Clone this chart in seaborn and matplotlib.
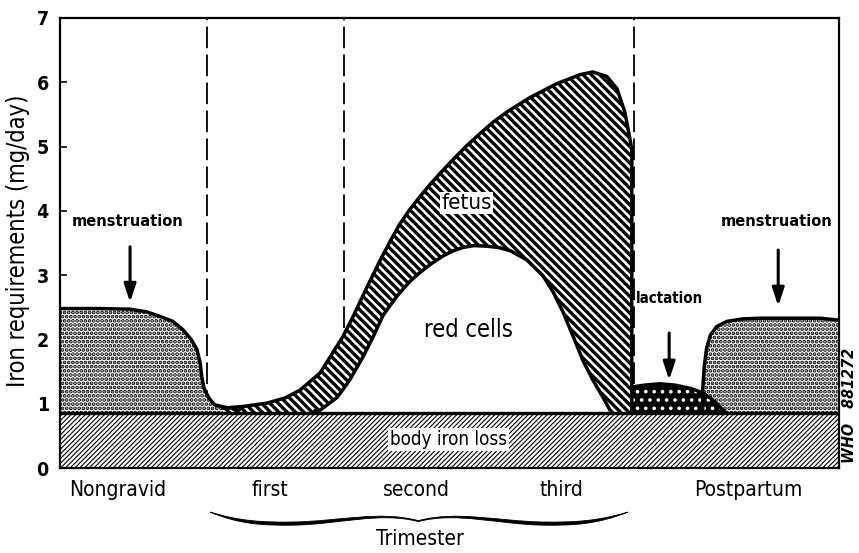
import matplotlib
matplotlib.use("Agg")
import matplotlib.pyplot as plt
from matplotlib import font_manager
import seaborn as sns
import pandas as pd
from matplotlib.path import Path
from matplotlib.patches import PathPatch

# x runs 0-100 across the time line (nongravid -> trimesters -> postpartum)
baseline = 0.85  # body iron loss (mg/day)

nongravid_x = [0, 5.1, 9.0, 11.1, 12.8, 14.5, 15.8, 16.9, 17.6, 18.0, 18.2,
               18.5, 19.1, 19.9, 21.4, 23.0]
nongravid_y = [2.48, 2.48, 2.47, 2.43, 2.36, 2.28, 2.15, 1.99, 1.84, 1.63,
               1.42, 1.24, 1.09, 0.98, 0.94, 0.90]

fetus_x = [20.9, 23.7, 26.6, 28.9, 30.8, 33.4, 35.0, 36.3, 37.6, 39.4, 41.1,
           42.4, 43.6, 44.9, 46.2, 47.5, 49.0, 50.4, 52.1, 53.9, 55.6, 57.4,
           60.3, 63.8, 66.8, 68.4, 70.2, 71.5, 72.5, 73.2, 73.4, 73.4]
fetus_y = [0.93, 0.96, 1.01, 1.09, 1.21, 1.48, 1.79, 2.04, 2.35, 2.81, 3.23,
           3.53, 3.79, 4.02, 4.22, 4.41, 4.61, 4.79, 5.00, 5.20, 5.38, 5.54,
           5.76, 5.98, 6.12, 6.16, 6.09, 5.90, 5.54, 5.10, 4.95, 0.85]

redcell_x = [32.7, 33.4, 35.6, 37.2, 38.9, 40.2, 41.5, 43.3, 44.9, 46.2, 47.7,
             49.2, 50.5, 51.7, 53.2, 54.8, 56.3, 57.8, 59.9, 62.0, 63.3, 64.6,
             65.9, 67.1, 68.4, 69.7, 70.6]
redcell_y = [0.89, 0.90, 1.10, 1.37, 1.73, 2.04, 2.38, 2.68, 2.90, 3.04, 3.18,
             3.30, 3.38, 3.43, 3.46, 3.45, 3.43, 3.38, 3.24, 2.99, 2.74, 2.42,
             2.04, 1.68, 1.37, 1.10, 0.90]

lactation_x = [73.4, 75.1, 77.0, 78.9, 80.9, 82.5, 83.7, 84.7, 85.6]
lactation_y = [1.26, 1.29, 1.31, 1.29, 1.24, 1.17, 1.07, 0.95, 0.85]

postpartum_x = [82.5, 82.5, 82.7, 83.0, 83.5, 84.3, 85.6, 87.7, 89.9, 94.1,
                97.6, 100]
postpartum_y = [0.85, 1.21, 1.57, 1.86, 2.07, 2.20, 2.28, 2.32, 2.33, 2.33,
                2.33, 2.30]

period_bounds = [18.9, 36.5, 73.7]
tick_x = [18.9, 36.5, 55.2, 73.7]
period_labels = ["Nongravid", "first", "second", "third", "Postpartum"]
period_label_x = [7.4, 27.0, 45.7, 64.4, 88.3]
y_values = list(range(0, 8))

sns.set_theme(style="white")

# a condensed face if one happens to be installed, else Liberation Sans
stretch = "normal"
family = ["Liberation Sans", "DejaVu Sans"]
for f in font_manager.fontManager.ttflist:
    if f.name in ("Liberation Sans Narrow", "DejaVu Sans") and f.stretch == "condensed":
        family = [f.name] + family
        stretch = "condensed"
        break
plt.rcParams["font.family"] = family
plt.rcParams["font.stretch"] = stretch
plt.rcParams["hatch.color"] = "black"
plt.rcParams["text.color"] = "black"
plt.rcParams["ytick.color"] = "black"
plt.rcParams["xtick.color"] = "black"

fig = plt.figure(figsize=(8.59, 5.53), dpi=100)
ax = fig.add_axes([0.0698, 0.1537, 0.9069, 0.8138])
ax.set_xlim(0, 100)
ax.set_ylim(0, 7)

# period separators (hidden behind the filled areas)
for xb in period_bounds:
    ax.axvline(xb, color="black", lw=1.3, ls=(0, (12, 3.5)), zorder=1)

# body iron loss band
with plt.rc_context({"hatch.linewidth": 0.8}):
    ax.fill_between([0, 100], 0, baseline, facecolor="white", hatch="/" * 7,
                    edgecolor="black", lw=0, zorder=1.5)

# nongravid menstruation
with plt.rc_context({"hatch.linewidth": 1.9}):
    ax.fill_between(nongravid_x, baseline, nongravid_y, facecolor="white",
                    hatch="....", edgecolor="black", lw=0, zorder=2)

# fetus (hatched) with red cells (white) on top
with plt.rc_context({"hatch.linewidth": 2.4}):
    ax.fill_between(fetus_x, baseline, fetus_y, facecolor="white",
                    hatch="\\" * 4, edgecolor="black", lw=0, zorder=2)
ax.fill_between(redcell_x, baseline, redcell_y, facecolor="white", lw=0,
                zorder=3)

# postpartum menstruation then lactation on top
with plt.rc_context({"hatch.linewidth": 1.9}):
    ax.fill_between(postpartum_x, baseline, postpartum_y, facecolor="white",
                    hatch="....", edgecolor="black", lw=0, zorder=2)
with plt.rc_context({"hatch.linewidth": 1.4}):
    ax.fill_between(lactation_x, baseline, lactation_y, facecolor="black",
                    hatch="..", edgecolor="white", lw=0, zorder=3)

# outlines
curves = [(nongravid_x, nongravid_y), (fetus_x, fetus_y), (redcell_x, redcell_y),
          (postpartum_x, postpartum_y), (lactation_x, lactation_y)]
for cx, cy in curves:
    df = pd.DataFrame({"x": cx, "y": cy})
    sns.lineplot(data=df, x="x", y="y", sort=False, estimator=None,
                 color="black", lw=2.5, ax=ax, zorder=4)
for ln in ax.get_lines():
    ln.set_solid_joinstyle("round")
    ln.set_solid_capstyle("round")

ax.axhline(baseline, color="black", lw=2.4, zorder=6)
ax.text(49.9, 0.45, "body iron loss", ha="center", va="center", fontsize=13.5,
        zorder=7, bbox=dict(facecolor="white", edgecolor="none", pad=1.5))

# labels inside the plot
ax.text(52.2, 4.12, "fetus", ha="center", va="center", fontsize=16,
        zorder=7, bbox=dict(facecolor="white", edgecolor="none", pad=1.0))
ax.text(52.4, 2.15, "red cells", ha="center", va="center", fontsize=17,
        zorder=7)

arrow = dict(arrowstyle="-|>,head_length=0.9,head_width=0.3", color="black",
             lw=2.2, shrinkA=0, shrinkB=0)
ax.annotate("", xy=(9.0, 2.58), xytext=(9.0, 3.44), arrowprops=arrow, zorder=7)
ax.text(8.7, 3.83, "menstruation", ha="center", va="center", fontsize=11.7,
        fontweight="bold")
ax.annotate("", xy=(92.2, 2.52), xytext=(92.2, 3.39), arrowprops=arrow, zorder=7)
ax.text(92.0, 3.83, "menstruation", ha="center", va="center", fontsize=11.7,
        fontweight="bold")
ax.annotate("", xy=(78.2, 1.37), xytext=(78.2, 2.10), arrowprops=arrow, zorder=7)
ax.text(78.3, 2.64, "lactation", ha="center", va="center", fontsize=10.8,
        fontweight="bold")

# axes styling
ax.set_yticks(y_values)
ax.set_yticklabels([str(v) for v in y_values], fontsize=14, fontweight="bold")
ax.set_xticks(tick_x)
ax.set_xticklabels([])
ax.tick_params(axis="both", direction="in", length=5, width=1.2, color="black",
               left=True, bottom=True)
ax.tick_params(axis="y", pad=8)
for side in ["left", "right", "top", "bottom"]:
    ax.spines[side].set_color("black")
    ax.spines[side].set_linewidth(1.6)
    ax.spines[side].set_zorder(8)
ax.set_xlabel("")
ax.set_ylabel("")
ax.text(-0.054, 0.505, "Iron requirements (mg/day)", rotation=90,
        transform=ax.transAxes, ha="center", va="center", fontsize=17)

# period names and trimester brace below the axis
xt = ax.get_xaxis_transform()
for lx, lab in zip(period_label_x, period_labels):
    ax.text(lx, -0.048, lab, transform=xt, ha="center", va="center", fontsize=15)

t = 0.007  # stroke thickness of the brace arms
brace_pts = [
    (19.3, -0.098),
    (23, -0.118), (26, -0.121), (30, -0.120),
    (36, -0.118), (41, -0.094), (46.0, -0.117),
    (51, -0.094), (56, -0.118), (62, -0.120),
    (66, -0.121), (69, -0.118), (72.9, -0.098),
    (69, -0.118 - t), (66, -0.121 - t), (62, -0.120 - t),
    (56, -0.118 - t), (51, -0.094 - t * 0.4), (46.0, -0.119),
    (41, -0.094 - t * 0.4), (36, -0.118 - t), (30, -0.120 - t),
    (26, -0.121 - t), (23, -0.118 - t), (19.3, -0.098),
]
codes = [Path.MOVETO] + [Path.CURVE4] * 24
ax.add_patch(PathPatch(Path(brace_pts, codes), transform=xt, facecolor="black",
                       edgecolor="black", lw=0.6, clip_on=False))
ax.text(46.2, -0.158, "Trimester", transform=xt, ha="center", va="center",
        fontsize=15)

ax.text(101.4, 0.138, "WHO   881272", transform=xt, rotation=90, ha="center",
        va="center", fontsize=11.5, fontstyle="italic", fontweight="bold")

fig.savefig("out.png", dpi=100)
